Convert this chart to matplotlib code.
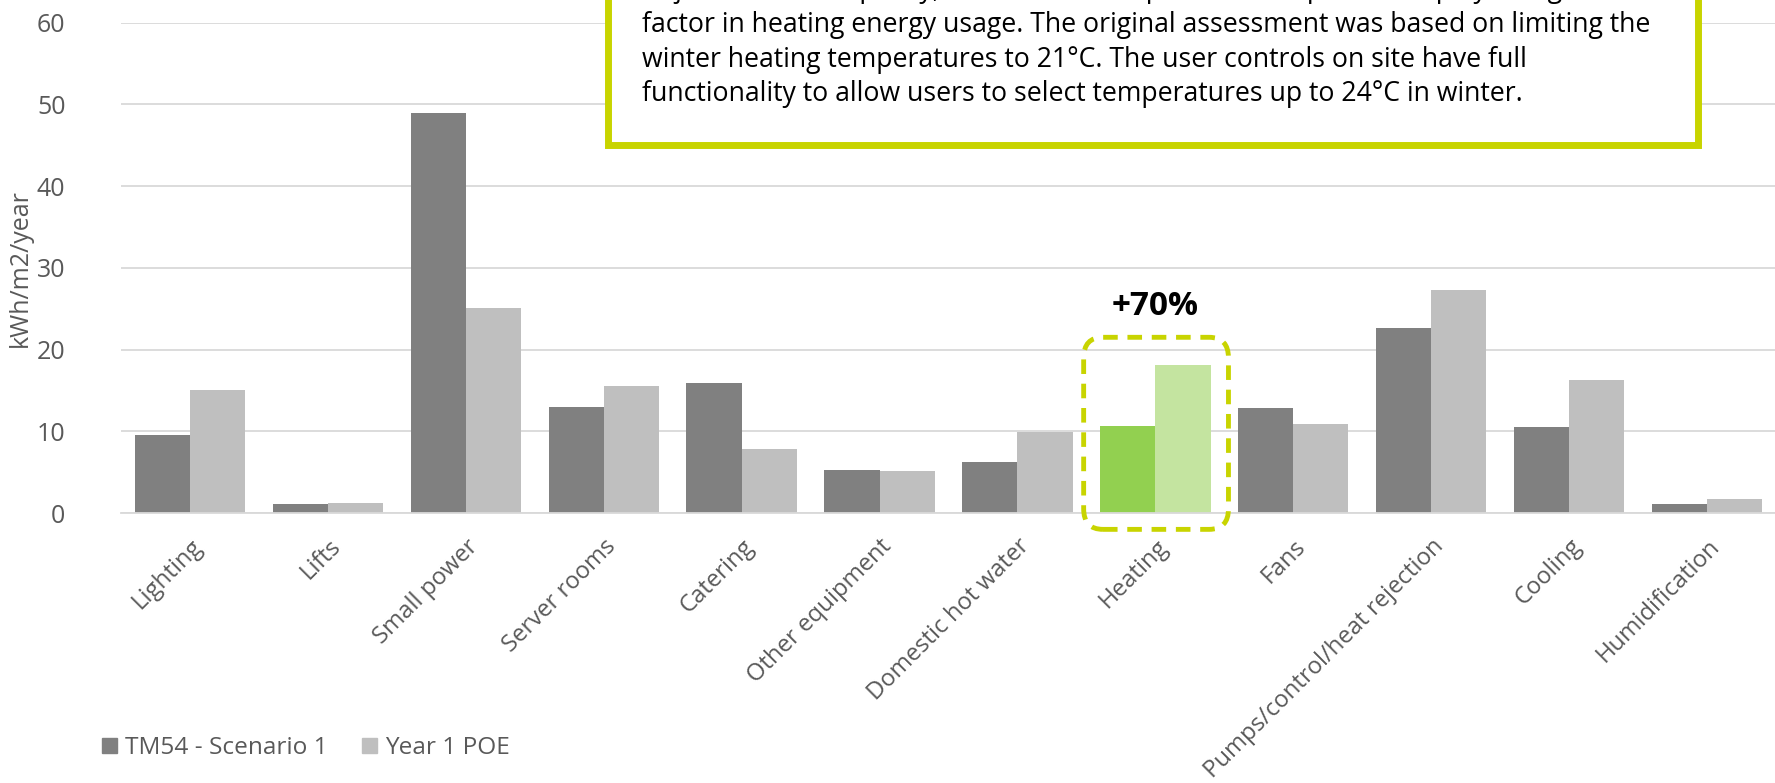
import numpy as np
import matplotlib.pyplot as plt
import matplotlib.transforms as mtransforms
from matplotlib.patches import FancyBboxPatch, Rectangle

plt.rcParams['font.family'] = ['Open Sans', 'DejaVu Sans']

# Data
categories = ['Lighting', 'Lifts', 'Small power', 'Server rooms', 'Catering',
              'Other equipment', 'Domestic hot water', 'Heating', 'Fans',
              'Pumps/control/heat rejection', 'Cooling', 'Humidification']
tm54 = [9.6, 1.1, 48.9, 13.0, 15.9, 5.3, 6.3, 10.6, 12.8, 22.6, 10.5, 1.1]
poe = [15.0, 1.2, 25.1, 15.6, 7.8, 5.1, 9.9, 18.1, 10.9, 27.3, 16.3, 1.7]
series_names = ['TM54 - Scenario 1', 'Year 1 POE']
highlight = 'Heating'
highlight_label = '+70%'
note_lines = [
    'Adjusted for occupancy, the internal temperature set-point also plays a significant',
    'factor in heating energy usage. The original assessment was based on limiting the',
    'winter heating temperatures to 21\u00b0C. The user controls on site have full',
    'functionality to allow users to select temperatures up to 24\u00b0C in winter.',
]

dark = '#808080'
light = '#BFBFBF'
green = '#92D050'
lgreen = '#C4E4A0'
lime = '#C8D400'
txt = '#595959'

fig = plt.figure(figsize=(17.75, 7.83), dpi=100)
ax = fig.add_axes([121 / 1775, 0.3448, 1655 / 1775, 0.6263])

x = np.arange(len(categories))
w = 0.40
hi = categories.index(highlight)
c1 = [green if i == hi else dark for i in range(len(categories))]
c2 = [lgreen if i == hi else light for i in range(len(categories))]
ax.bar(x - w / 2, tm54, w, color=c1, zorder=2, label=series_names[0])
ax.bar(x + w / 2, poe, w, color=c2, zorder=2, label=series_names[1])

ax.set_xlim(-0.5, len(categories) - 0.5)
ax.set_ylim(0, 60)
ax.set_yticks(np.arange(0, 61, 10))
ax.grid(axis='y', color='#D9D9D9', linewidth=1.3, zorder=0)
ax.set_axisbelow(True)
for s in ['top', 'right', 'left']:
    ax.spines[s].set_visible(False)
ax.spines['bottom'].set_color('#D9D9D9')
ax.spines['bottom'].set_linewidth(1.3)
ax.tick_params(axis='both', length=0, colors=txt)
ax.tick_params(axis='y', pad=40, labelsize=18)
ax.tick_params(axis='x', labelsize=17.2)
ax.set_xticks(x)
ax.set_xticklabels(categories, rotation=45, ha='right', va='center',
                   rotation_mode='anchor')
shift = mtransforms.ScaledTranslation(0.09, -0.25, fig.dpi_scale_trans)
for lab in ax.get_xticklabels():
    lab.set_transform(lab.get_transform() + shift)
ax.set_ylabel('kWh/m2/year', fontsize=18, color=txt)
ax.yaxis.set_label_coords(-0.053, 0.5)

# dashed highlight around heating
hb = FancyBboxPatch((hi - 0.52, -2.0), 1.05, 23.5,
                    boxstyle='round,pad=0,rounding_size=0.14',
                    transform=ax.transData, fill=False, edgecolor=lime,
                    linewidth=3.5, linestyle=(0, (3, 2)), clip_on=False, zorder=5,
                    mutation_aspect=18)
ax.add_patch(hb)
ax.text(hi, 23.2, highlight_label, ha='center', va='bottom', fontsize=24,
        fontweight='bold', color='black')

# note box (top line runs off the top of the figure, as in the original)
box = Rectangle((608 / 1775, 1 - 145 / 783), (1698 - 608) / 1775, 0.3,
                transform=fig.transFigure, facecolor='white', edgecolor=lime,
                linewidth=5, zorder=10)
fig.add_artist(box)
for i, line in enumerate(note_lines):
    fig.text(642 / 1775, 1 - (101 - 34.5 * (3 - i)) / 783, line, fontsize=19.2,
             color='black', va='baseline', ha='left', zorder=11)

# legend
leg = ax.legend(loc='lower left', bbox_to_anchor=(80 / 1775, 1 / 783),
                bbox_transform=fig.transFigure, ncol=2, frameon=False,
                fontsize=17.6, handlelength=0.6, handleheight=0.6,
                handletextpad=0.35, columnspacing=1.4)
for t in leg.get_texts():
    t.set_color(txt)
leg.legend_handles[0].set_color(dark)
leg.legend_handles[1].set_color(light)

fig.savefig('out.png', dpi=100)
